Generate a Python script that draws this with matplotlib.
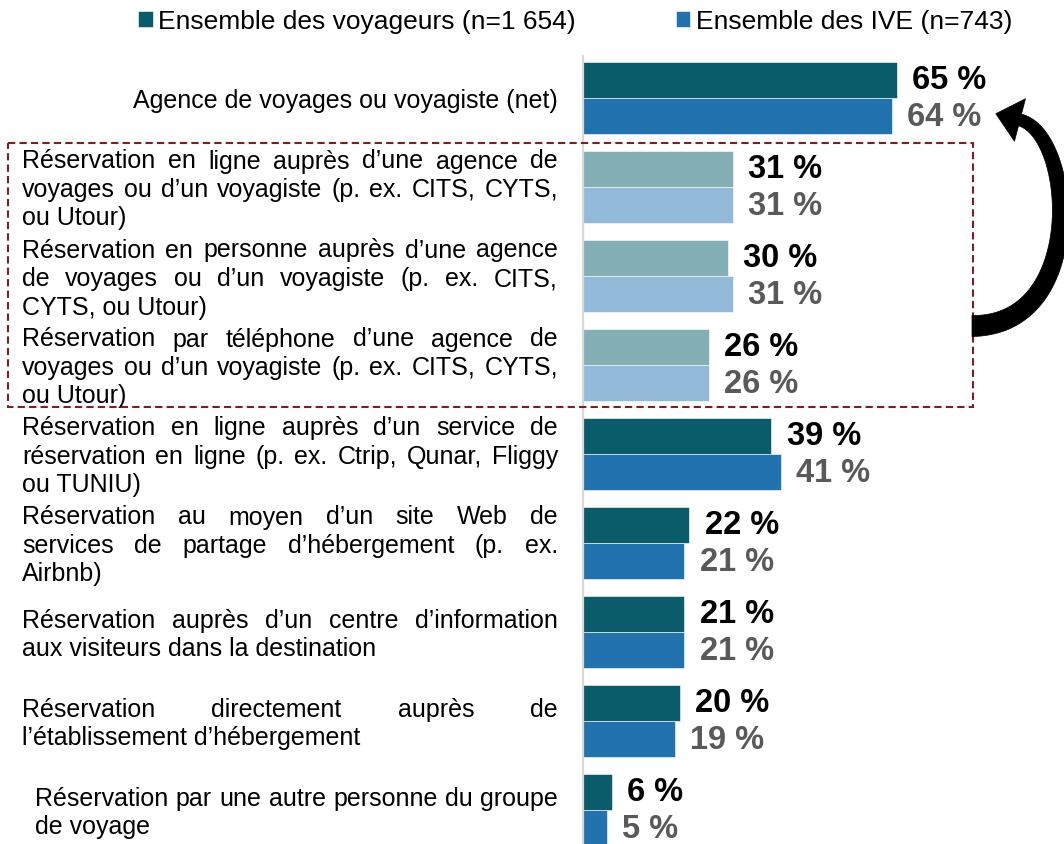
import matplotlib
matplotlib.use('Agg')
import matplotlib.pyplot as plt
import numpy as np
from matplotlib import transforms
from matplotlib.patches import Rectangle, Polygon

plt.rcParams['font.family'] = ['Liberation Sans', 'DejaVu Sans']

categories = [
    "Agence de voyages ou voyagiste (net)",
    "Réservation en ligne auprès d’une agence de\nvoyages ou d’un voyagiste (p. ex. CITS, CYTS,\nou Utour)",
    "Réservation en personne auprès d’une agence\nde voyages ou d’un voyagiste (p. ex. CITS,\nCYTS, ou Utour)",
    "Réservation par téléphone d’une agence de\nvoyages ou d’un voyagiste (p. ex. CITS, CYTS,\nou Utour)",
    "Réservation en ligne auprès d’un service de\nréservation en ligne (p. ex. Ctrip, Qunar, Fliggy\nou TUNIU)",
    "Réservation au moyen d’un site Web de\nservices de partage d’hébergement (p. ex.\nAirbnb)",
    "Réservation auprès d’un centre d’information\naux visiteurs dans la destination",
    "Réservation directement auprès de\nl’établissement d’hébergement",
    "Réservation par une autre personne du groupe\nde voyage",
]
voyageurs = [65, 31, 30, 26, 39, 22, 21, 20, 6]
ive = [64, 31, 31, 26, 41, 21, 21, 19, 5]
boxed = [1, 2, 3]

legend_labels = ["Ensemble des voyageurs (n=1 654)", "Ensemble des IVE (n=743)"]

dark_teal = '#0B5C6A'
dark_blue = '#2273AD'
light_teal = '#84AFB4'
light_blue = '#92B9D7'

W, H = 1064, 845
fig = plt.figure(figsize=(W / 100, H / 100), dpi=100)
ax = fig.add_axes([583 / W, 0, 1 - 583 / W, (H - 57) / H])

bar_h = 0.405
ys = list(range(len(categories)))
c1 = [light_teal if i in boxed else dark_teal for i in ys]
c2 = [light_blue if i in boxed else dark_blue for i in ys]
b1 = ax.barh([y - bar_h / 2 for y in ys], voyageurs, height=bar_h, color=c1,
             edgecolor='white', linewidth=0.4, label=legend_labels[0])
b2 = ax.barh([y + bar_h / 2 for y in ys], ive, height=bar_h, color=c2,
             edgecolor='white', linewidth=0.4, label=legend_labels[1])

ax.set_xlim(0, (W - 583) / 4.83)
ax.set_ylim((H - 99) / 89, (57 - 99) / 89)
for s in ['top', 'right', 'bottom']:
    ax.spines[s].set_visible(False)
ax.spines['left'].set_color('#D9D9D9')
ax.spines['left'].set_linewidth(1.6)
ax.set_xticks([])
ax.set_yticks([])

for i in ys:
    ax.annotate(f"{voyageurs[i]} %", (voyageurs[i], i - bar_h / 2), xytext=(11, 0),
                textcoords='offset points', va='center', ha='left',
                fontsize=23.5, fontweight='bold', color='black')
    ax.annotate(f"{ive[i]} %", (ive[i], i + bar_h / 2), xytext=(11, 0),
                textcoords='offset points', va='center', ha='left',
                fontsize=23.5, fontweight='bold', color='#595959')

# category labels, justified like the original
trans = transforms.blended_transform_factory(fig.transFigure, ax.transData)
renderer = fig.canvas.get_renderer()
line_gap = 28.5 / 89
base_shift = 9 / 89
fs = 18


def draw_label(text, yc, left, right, single_right=True):
    lines = text.split('\n')
    n = len(lines)
    for k, line in enumerate(lines):
        yb = yc + (k - (n - 1) / 2) * line_gap + base_shift
        if n == 1 and single_right:
            fig.text(right / W, yb, line, ha='right', va='baseline',
                     transform=trans, fontsize=fs)
            continue
        if k == n - 1:
            fig.text(left / W, yb, line, ha='left', va='baseline',
                     transform=trans, fontsize=fs)
            continue
        words = line.split(' ')
        objs = [fig.text(0, yb, w, ha='left', va='baseline', transform=trans,
                         fontsize=fs) for w in words]
        widths = [o.get_window_extent(renderer).width for o in objs]
        gap = (right - left - sum(widths)) / (len(words) - 1)
        x = left
        for o, w in zip(objs, widths):
            o.set_x(x / W)
            x += w + gap


for i, cat in enumerate(categories):
    left = 35 if i == len(categories) - 1 else 22
    draw_label(cat, i, left, 558)

# dashed box around the detailed travel agency rows
box = Rectangle((8 / W, boxed[0] - 0.5), (973 - 8) / W, len(boxed) - 0.03,
                transform=trans, fill=False, edgecolor='#7B1F22',
                linewidth=1.5, linestyle=(0, (3.5, 2)), clip_on=False)
fig.add_artist(box)

# curved, tapering arrow pointing back to the net value (pixel coords, y down)
ctrl = np.array([(972, 327), (1088, 327), (1074, 135), (1020, 121)], dtype=float)
t = np.linspace(0, 1, 80)[:, None]
curve = ((1 - t) ** 3 * ctrl[0] + 3 * (1 - t) ** 2 * t * ctrl[1]
         + 3 * (1 - t) * t ** 2 * ctrl[2] + t ** 3 * ctrl[3])
deriv = (3 * (1 - t) ** 2 * (ctrl[1] - ctrl[0]) + 6 * (1 - t) * t * (ctrl[2] - ctrl[1])
         + 3 * t ** 2 * (ctrl[3] - ctrl[2]))
tang = deriv / np.linalg.norm(deriv, axis=1, keepdims=True)
norm = np.column_stack([-tang[:, 1], tang[:, 0]])
width = 21 + (12 - 21) * t
side_a = curve + norm * width / 2
side_b = curve - norm * width / 2
head_base = curve[-1]
tip = head_base + tang[-1] * 25
head = [head_base + norm[-1] * 22, tip, head_base - norm[-1] * 22]
outline = np.vstack([side_a, head, side_b[::-1]])
outline = np.column_stack([outline[:, 0] / W, 1 - outline[:, 1] / H])
fig.add_artist(Polygon(outline, closed=True, transform=fig.transFigure,
                       facecolor='black', edgecolor='black', linewidth=0.5))

fig.legend(handles=[b1, b2], labels=legend_labels, loc='center',
           bbox_to_anchor=(575 / W, 1 - 22 / H), ncol=2, frameon=False,
           fontsize=19, handlelength=0.55, handleheight=0.55,
           handletextpad=0.2, columnspacing=3.8, borderpad=0)

fig.savefig('out.png', dpi=100)
